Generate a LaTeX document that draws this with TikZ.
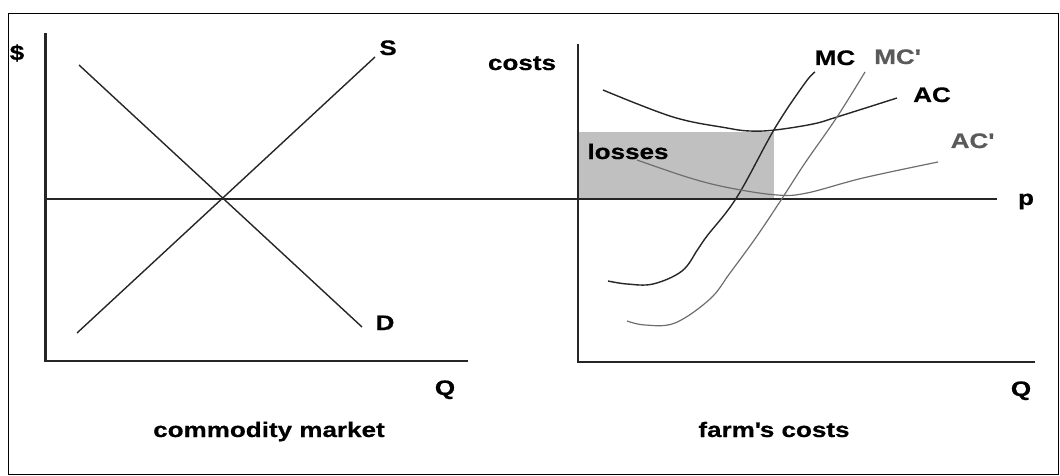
\documentclass[tikz,border=0pt]{standalone}
\usepackage{fontspec}
\setmainfont[FakeStretch=1.24, BoldFeatures={FakeBold=0.6}]{Liberation Sans}
\definecolor{lossgray}{HTML}{C0C0C0}
\definecolor{curvegray}{HTML}{6E6E6E}
\definecolor{labelgray}{HTML}{5A5A5A}
\begin{document}
\begin{tikzpicture}[x=1pt,y=-1pt,
  lbl/.style={font=\fontsize{21}{24}\selectfont\bfseries, inner sep=0pt, anchor=base},
  axisline/.style={line width=2.2pt, draw=black!85},
  curve/.style={line width=1.4pt, draw=black!85},
  graycurve/.style={line width=1.2pt, draw=curvegray}]
\useasboundingbox (0,0) rectangle (1060,476);
\draw[line width=1.5pt] (8.5,13.5) rectangle (1058.5,474.5);

% losses area
\fill[lossgray] (577,132) rectangle (774,199);

% left panel axes
\coordinate (LyTop) at (45.5,33);
\coordinate (Lorig) at (45.5,361);
\coordinate (LxEnd) at (468,361);
\draw[axisline] (LyTop) -- (Lorig) -- (LxEnd);

% right panel axes
\coordinate (RyTop) at (578,44);
\coordinate (Rorig) at (578,362);
\coordinate (RxEnd) at (1035,362);
\draw[axisline] (RyTop) -- (Rorig) -- (RxEnd);

% price line
\coordinate (pStart) at (45.5,199);
\coordinate (pEnd) at (997,199);
\draw[axisline] (pStart) -- (pEnd);

% supply and demand
\coordinate (Sbot) at (77,333);
\coordinate (Stop) at (375,57);
\coordinate (Dtop) at (79,65);
\coordinate (Dbot) at (362,327);
\draw[curve] (Sbot) -- (Stop);
\draw[curve] (Dtop) -- (Dbot);

% AC
\draw[curve] plot[smooth, tension=0.6] coordinates {(603,90) (673,117) (727,128) (750,131) (775,130) (813,124) (837,117) (897,98)};
% MC
\draw[curve] plot[smooth, tension=0.6] coordinates {(608,281) (627,284) (653,284) (682,271) (698,249) (707,236) (737,197) (775,128) (805,83) (815,72)};
% MC'
\draw[graycurve] plot[smooth, tension=0.6] coordinates {(627,321) (645,325) (675,323) (710,299) (730,273) (757,236) (783,197) (805,163) (837,117) (865,72)};
% AC'
\draw[graycurve] plot[smooth, tension=0.6] coordinates {(637,160) (690,178) (730,188) (777,195) (807,193) (863,178) (938,162)};

% labels
\node[lbl] (dollar) at (17,60) {\$};
\node[lbl] (Slbl) at (388,55) {S};
\node[lbl] (Dlbl) at (385,330) {D};
\node[lbl] (Qleft) at (445,395) {Q};
\node[lbl] (Qright) at (1021,396) {Q};
\node[lbl] (cm) at (269,437) {commodity market};
\node[lbl] (fc) at (774,437) {farm\textquotesingle s costs};
\node[lbl] (costs) at (522,70) {costs};
\node[lbl] (MC) at (835,65) {MC};
\node[lbl, text=labelgray] (MCp) at (897,64) {MC\textquotesingle};
\node[lbl] (AC) at (932,102) {AC};
\node[lbl, text=labelgray] (ACp) at (972,148) {AC\textquotesingle};
\node[lbl] (losses) at (628,159) {losses};
\node[lbl] (plbl) at (1026,205) {p};
\end{tikzpicture}
\end{document}
